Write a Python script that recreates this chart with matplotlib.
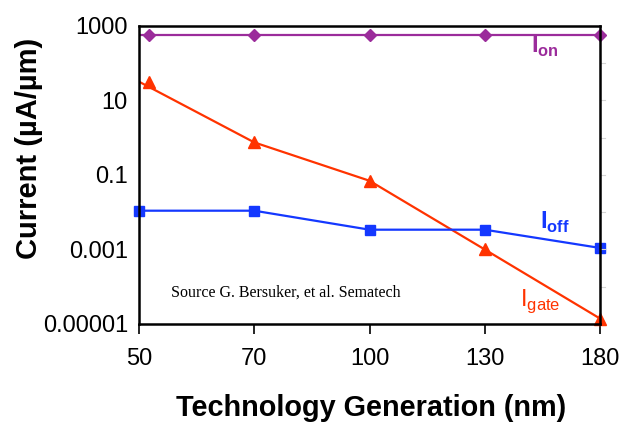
import numpy as np
import matplotlib.pyplot as plt

plt.rcParams['font.family'] = 'Liberation Sans'
plt.rcParams['mathtext.fontset'] = 'custom'
plt.rcParams['mathtext.bf'] = 'Liberation Sans:bold'
plt.rcParams['mathtext.rm'] = 'Liberation Sans'

# technology nodes (nm), plotted as evenly spaced categories
nodes = ['50', '70', '100', '130', '180']

# currents in uA/um
i_on = [580, 580, 580, 580, 580]
i_gate = [32, 0.75, 0.07, 0.001, 1.4e-5]
i_off = [0.011, 0.011, 0.0034, 0.0034, 0.0011]

ion_color = '#9B2C9B'
igate_color = '#FF3300'
ioff_color = '#1438FF'

fig = plt.figure(figsize=(6.23, 4.29), dpi=100)
ax = fig.add_axes([0.2231, 0.2448, 0.74, 0.6946])

x = np.arange(len(nodes))
# the first on/gate points sit just right of the 50 nm axis
x_mark = x.astype(float)
x_mark[0] = 0.09

ax.plot(x, i_on, color=ion_color, lw=1.6)
ax.plot(x_mark, i_on, ls='none', marker='D', ms=6, color=ion_color, clip_on=False)
ax.plot(x, i_gate, color=igate_color, lw=1.6)
ax.plot(x_mark, i_gate, ls='none', marker='^', ms=8, color=igate_color, clip_on=False)
ax.plot(x, i_off, color=ioff_color, lw=1.6, marker='s', ms=6.5, clip_on=False)

ax.set_yscale('log')
ax.set_ylim(1e-5, 1e3)
ax.set_xlim(0, 4)
ax.set_yticks([1e-5, 1e-3, 1e-1, 10, 1000])
ax.set_yticklabels(['0.00001', '0.001', '0.1', '10', '1000'])
ax.yaxis.set_minor_locator(plt.NullLocator())
ax.tick_params(axis='y', length=0, labelsize=17, pad=8)
ax.set_xticks(x)
ax.set_xticklabels(nodes)
ax.tick_params(axis='x', direction='out', length=7, width=1.2, labelsize=17, pad=10)

# faint decade marks along the right spine
for d in range(-4, 3):
    ax.plot([1.0, 1.01], [10.0**d, 10.0**d], color='#d4d4d4', lw=0.8,
            transform=ax.get_yaxis_transform(), clip_on=False)

for s in ax.spines.values():
    s.set_linewidth(1.8)

fig.text(0.5955, 0.05, 'Technology Generation (nm)', ha='center', va='center',
         fontsize=20.8, fontweight='bold')
fig.text(0.047, 1 - 148 / 429, 'Current (\u00b5A/\u00b5m)', ha='center', va='center',
         rotation=90, fontsize=21, fontweight='bold')

ax.text(3.52, 290, r'$\mathbf{I}_{\mathbf{on}}$', color=ion_color, fontsize=17,
        ha='center', va='center')
ax.text(3.61, 0.0052, r'$\mathbf{I}_{\mathbf{off}}$', color=ioff_color, fontsize=17,
        ha='center', va='center')
ax.text(3.48, 4.0e-5, r'$\mathrm{I}_{\mathrm{gate}}$', color=igate_color, fontsize=17,
        ha='center', va='center')

ax.text(0.28, 6.8e-5, 'Source G. Bersuker, et al. Sematech', family='Liberation Serif',
        fontsize=11.5, ha='left', va='center')

fig.savefig('out.png', dpi=100)
